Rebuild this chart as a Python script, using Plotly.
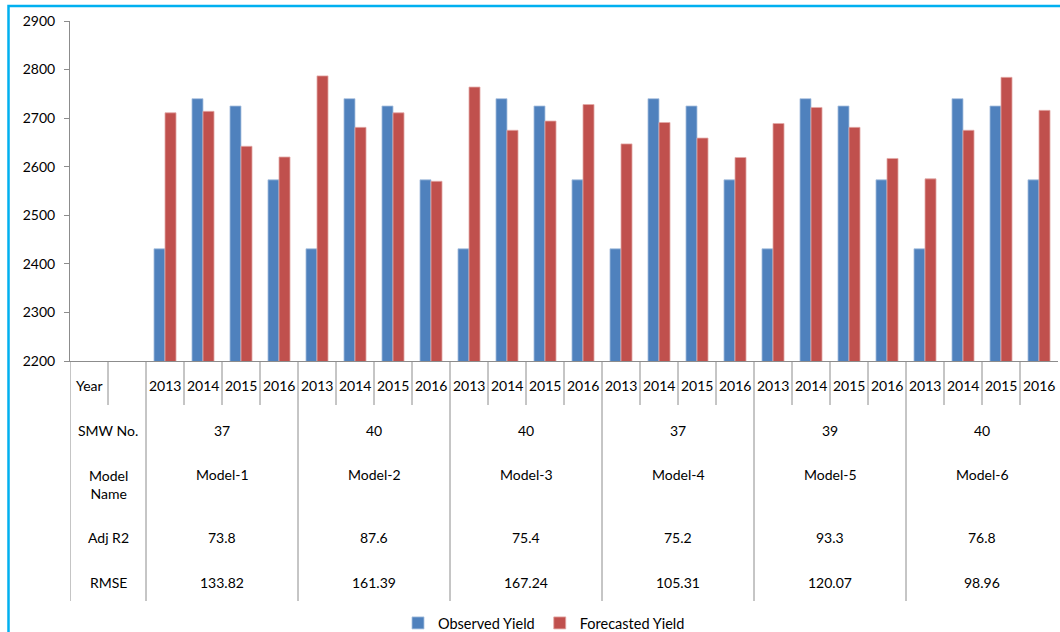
import plotly.graph_objects as go

# ---------------- data ----------------
row_labels = ["Year", "SMW No.", "Model<br>Name", "Adj R2", "RMSE"]
years = ["2013", "2014", "2015", "2016"]
models = ["Model-1", "Model-2", "Model-3", "Model-4", "Model-5", "Model-6"]
smw_no = ["37", "40", "40", "37", "39", "40"]
adj_r2 = ["73.8", "87.6", "75.4", "75.2", "93.3", "76.8"]
rmse = ["133.82", "161.39", "167.24", "105.31", "120.07", "98.96"]

observed_yield = [2431, 2740, 2725, 2573,
                  2431, 2740, 2725, 2573,
                  2431, 2740, 2725, 2573,
                  2431, 2740, 2725, 2573,
                  2431, 2740, 2725, 2573,
                  2431, 2740, 2725, 2573]
forecasted_yield = [2711, 2714, 2642, 2620,
                    2787, 2681, 2711, 2570,
                    2764, 2675, 2694, 2728,
                    2647, 2691, 2659, 2619,
                    2689, 2722, 2681, 2617,
                    2575, 2675, 2784, 2716]

y_ticks = [2200, 2300, 2400, 2500, 2600, 2700, 2800, 2900]

# ---------------- layout helpers ----------------
FONT = "Lato, 'Open Sans', sans-serif"
TXT = "#000000"
LINE = "#8c8c8c"
W, H = 1060, 632
PLOT_L, PLOT_R, PLOT_T, PLOT_B = 70, 1058, 21, 361
PH = PLOT_B - PLOT_T


def py(pix):
    """pixel row -> paper y"""
    return (PLOT_B - pix) / PH


def px(pix):
    return (pix - PLOT_L) / (PLOT_R - PLOT_L)


n_lead = 2  # "Year" column + blank column
xpos = [n_lead + g * len(years) + j for g in range(len(models)) for j in range(len(years))]

fig = go.Figure()
fig.add_trace(go.Bar(x=xpos, y=observed_yield, name="Observed Yield",
                     marker=dict(color="#4F81BD", line=dict(color="#A9C2E0", width=0.8))))
fig.add_trace(go.Bar(x=xpos, y=forecasted_yield, name="Forecasted Yield",
                     marker=dict(color="#C0504D", line=dict(color="#E3A9A7", width=0.8))))

shapes = []
annotations = []

ROW_Y = [385, 430, 484, 537, 582]
SHORT_END = 405
LONG_END = 601


def vline(x, y_end):
    shapes.append(dict(type="line", xref="x", yref="paper", x0=x, x1=x,
                       y0=0, y1=py(y_end), line=dict(color=LINE, width=1)))


def label(text, x, ypix):
    annotations.append(dict(text=text, x=x, y=py(ypix), xref="x", yref="paper",
                            xanchor="center", yanchor="middle", showarrow=False,
                            align="center", font=dict(size=14, color=TXT, family=FONT)))


# long vertical dividers
vline(-0.5, LONG_END)
vline(n_lead - 0.5, LONG_END)
for g in range(1, len(models)):
    vline(n_lead + g * len(years) - 0.5, LONG_END)
# short dividers in the Year row
vline(0.5, SHORT_END)
for g in range(len(models)):
    for j in range(1, len(years)):
        vline(n_lead + g * len(years) + j - 0.5, SHORT_END)

# row labels
label(row_labels[0], 0, ROW_Y[0])
for k in range(1, len(row_labels)):
    label(row_labels[k], 0.5, ROW_Y[k])

# year labels
for i, xp in enumerate(xpos):
    label(years[i % len(years)], xp, ROW_Y[0])

# group values
for g in range(len(models)):
    cx = n_lead + g * len(years) + (len(years) - 1) / 2
    label(smw_no[g], cx, ROW_Y[1])
    label(models[g], cx, 474)
    label(adj_r2[g], cx, ROW_Y[3])
    label(rmse[g], cx, ROW_Y[4])

# chart-area border (light blue, cropped on right/bottom)
shapes.append(dict(type="rect", xref="paper", yref="paper",
                   x0=px(8.5), x1=px(1200), y0=py(900), y1=py(6),
                   line=dict(color="#00B0F0", width=2.5), fillcolor="rgba(0,0,0,0)",
                   layer="below"))

fig.update_layout(
    width=W, height=H,
    margin=dict(l=PLOT_L, r=W - PLOT_R, t=PLOT_T, b=H - PLOT_B, pad=0, autoexpand=False),
    paper_bgcolor="white", plot_bgcolor="white",
    barmode="group", bargap=0.42, bargroupgap=0,
    font=dict(family=FONT, size=14, color=TXT),
    xaxis=dict(range=[-0.5, n_lead + len(xpos) - 0.5], showticklabels=False,
               showgrid=False, zeroline=False, showline=True, linecolor=LINE, linewidth=1,
               ticks="", fixedrange=True),
    yaxis=dict(range=[y_ticks[0], y_ticks[-1]], tickvals=y_ticks, showgrid=False,
               zeroline=False, showline=True, linecolor=LINE, linewidth=1,
               ticks="outside", ticklen=5, tickcolor=LINE, ticklabelstandoff=6,
               tickfont=dict(size=14, color=TXT, family=FONT)),
    legend=dict(orientation="h", x=px(544), xanchor="center", y=py(623), yanchor="middle",
                font=dict(size=14.5, color=TXT, family=FONT), bgcolor="rgba(0,0,0,0)",
                itemwidth=30, traceorder="normal"),
    shapes=shapes, annotations=annotations, hovermode=False,
)

fig.write_html("out.html")
